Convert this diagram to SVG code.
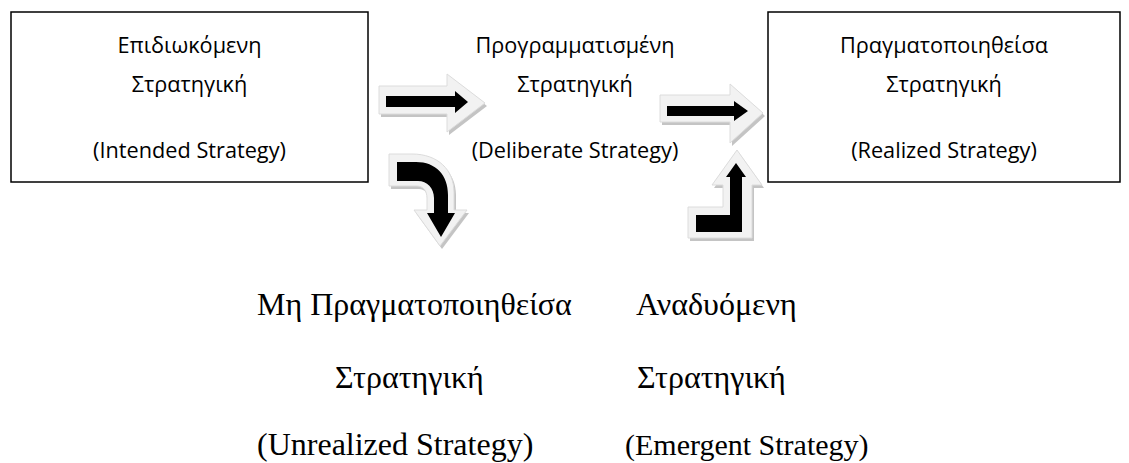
<svg xmlns="http://www.w3.org/2000/svg" width="1129" height="463" viewBox="0 0 1129 463">
<style>
.box{fill:#fff;stroke:#000;stroke-width:1.5}
.st{font-family:"Open Sans","Noto Sans",sans-serif;font-size:21.7px;fill:#000;text-anchor:middle}
.tm{font-family:"Liberation Serif","Times New Roman",serif;font-size:32px;fill:#000}
.sh{fill:#c4c4c4}
.lt{fill:#f2f2f2;stroke:#dcdcdc;stroke-width:1}
.bk{fill:#000}
</style>
<rect width="1129" height="463" fill="#fff"/>
<g id="intended">
<rect class="box" x="11" y="12" width="357" height="170"/>
<text class="st" x="189.5" y="53">Επιδιωκόμενη</text>
<text class="st" x="189.5" y="92">Στρατηγική</text>
<text class="st" x="189.5" y="158">(Intended Strategy)</text>
</g>
<g id="deliberate">
<text class="st" x="575" y="53">Προγραμματισμένη</text>
<text class="st" x="575" y="92">Στρατηγική</text>
<text class="st" x="575" y="158">(Deliberate Strategy)</text>
</g>
<g id="realized">
<rect class="box" x="768" y="12" width="352" height="170"/>
<text class="st" x="944" y="53">Πραγματοποιηθείσα</text>
<text class="st" x="944" y="92">Στρατηγική</text>
<text class="st" x="944" y="158">(Realized Strategy)</text>
</g>
<g id="unrealized">
<text class="tm" x="257" y="315">Μη Πραγματοποιηθείσα</text>
<text class="tm" x="335" y="388">Στρατηγική</text>
<text class="tm" x="257" y="455">(Unrealized Strategy)</text>
</g>
<g id="emergent">
<text class="tm" x="636" y="315">Αναδυόμενη</text>
<text class="tm" x="637" y="388">Στρατηγική</text>
<text class="tm" x="625" y="455" style="font-size:30px">(Emergent Strategy)</text>
</g>
<g id="connectors">
<g id="arrow-intended-deliberate">
<path class="sh" transform="translate(2,3)" d="M379,86 H447 V74 L485,103 L447,132 V114 H379 Z"/>
<path class="lt" d="M379,86 H447 V74 L485,103 L447,132 V114 H379 Z"/>
<path class="bk" d="M386,96 H455 V91 L468,102 L455,113 V107 H386 Z"/>
</g>
<g id="arrow-deliberate-realized">
<path class="sh" transform="translate(2,3)" d="M660,95 H730 V84 L763,113 L730,143 V122 H660 Z"/>
<path class="lt" d="M660,95 H730 V84 L763,113 L730,143 V122 H660 Z"/>
<path class="bk" d="M667,106 H734 V101 L748,111 L734,121 V116 H667 Z"/>
</g>
<g id="arrow-intended-unrealized">
<path class="sh" transform="translate(2,3)" d="M389,154 H412 C438,154 454,170 454,192 V210 H467 L440,246 L414,210 H427 V198 C427,191 423,186 417,186 H389 Z"/>
<path class="lt" d="M389,154 H412 C438,154 454,170 454,192 V210 H467 L440,246 L414,210 H427 V198 C427,191 423,186 417,186 H389 Z"/>
<path class="bk" d="M397,162 H416 C436,162 448,175 448,195 V213 H455 L441,237 L427,213 H434 V198 C434,188 427,181 418,181 H397 Z"/>
</g>
<g id="arrow-emergent-realized">
<path class="sh" transform="translate(2,3)" d="M688,207 H723 V185 H712 L737,150 L762,185 H752 V238 H688 Z"/>
<path class="lt" d="M688,207 H723 V185 H712 L737,150 L762,185 H752 V238 H688 Z"/>
<path class="bk" d="M696,215 H730 V177 H726 L736,163 L746,177 H742 V232 H696 Z"/>
</g>
</g>
</svg>
